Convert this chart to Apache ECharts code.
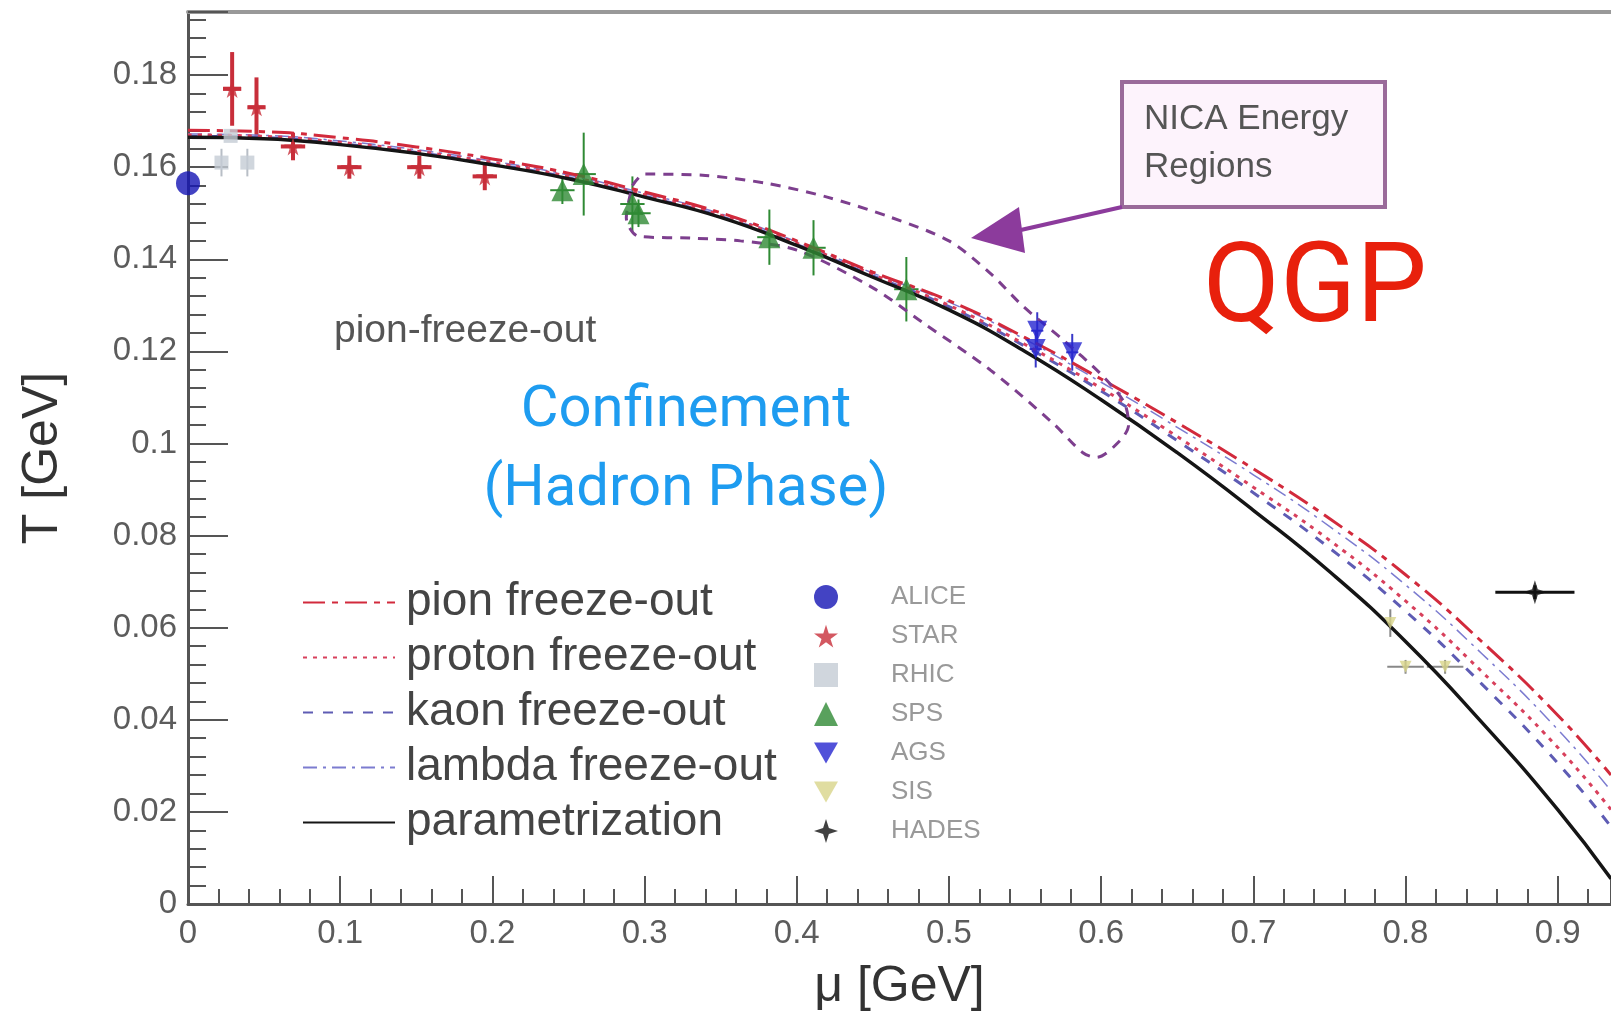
<!DOCTYPE html>
<html>
<head>
<meta charset="utf-8">
<script src="https://cdn.jsdelivr.net/npm/echarts@6/dist/echarts.min.js"></script>
<style>
html, body { margin: 0; padding: 0; background: #fff; }
#main { width: 1611px; height: 1020px; }
</style>
</head>
<body>
<div id="main"></div>
<script>
// freeze-out curves (mu in GeV, T in GeV)
var muGrid  = [0, 0.05, 0.1, 0.15, 0.2, 0.25, 0.3, 0.35, 0.4, 0.45, 0.5, 0.55, 0.6, 0.65, 0.7, 0.75, 0.8, 0.85, 0.9, 0.935];
var tParam  = [0.1665, 0.1662, 0.1649, 0.1630, 0.1605, 0.1575, 0.1535, 0.1491, 0.1430, 0.1361, 0.1290, 0.1200, 0.1095, 0.0980, 0.0855, 0.0722, 0.0570, 0.0395, 0.0205, 0.0055];
var tPion   = [0.1680, 0.1677, 0.1664, 0.1644, 0.1618, 0.1587, 0.1546, 0.1501, 0.1440, 0.1372, 0.1310, 0.1230, 0.1140, 0.1045, 0.0945, 0.0837, 0.0715, 0.0570, 0.0410, 0.0280];
var tProton = [0.1670, 0.1667, 0.1654, 0.1635, 0.1610, 0.1580, 0.1540, 0.1496, 0.1435, 0.1367, 0.1300, 0.1215, 0.1120, 0.1015, 0.0905, 0.0790, 0.0658, 0.0505, 0.0340, 0.0205];
var tKaon   = [0.1667, 0.1664, 0.1651, 0.1632, 0.1607, 0.1577, 0.1537, 0.1493, 0.1432, 0.1364, 0.1297, 0.1211, 0.1114, 0.1006, 0.0893, 0.0773, 0.0636, 0.0478, 0.0306, 0.0168];
var tLambda = [0.1672, 0.1669, 0.1657, 0.1638, 0.1613, 0.1583, 0.1543, 0.1499, 0.1438, 0.1370, 0.1307, 0.1226, 0.1133, 0.1035, 0.0932, 0.0820, 0.0693, 0.0544, 0.0379, 0.0246];

// NICA energy region outline (dashed loop)
var nicaMu = [0.292, 0.300, 0.340, 0.380, 0.420, 0.461, 0.500, 0.527, 0.549, 0.575, 0.600, 0.615, 0.618, 0.612, 0.597, 0.588, 0.568, 0.527, 0.483, 0.450, 0.400, 0.363, 0.330, 0.296, 0.288, 0.292];
var nicaT  = [0.1560, 0.1585, 0.1582, 0.1565, 0.1535, 0.1492, 0.1440, 0.1370, 0.1297, 0.1225, 0.1150, 0.1090, 0.1040, 0.1005, 0.0970, 0.0980, 0.1045, 0.1160, 0.1262, 0.1338, 0.1420, 0.1440, 0.1446, 0.1450, 0.1490, 0.1560];

// measurements: [mu, T, mu error, T error]
var alice = [[0.000, 0.1565, 0, 0]];
var star  = [[0.029, 0.1770, 0.006, 0.0080], [0.045, 0.1730, 0.006, 0.0065], [0.069, 0.1645, 0.008, 0.0030],
             [0.106, 0.1600, 0.008, 0.0025], [0.152, 0.1600, 0.008, 0.0025], [0.195, 0.1580, 0.008, 0.0030]];
var rhic  = [[0.022, 0.1610, 0, 0.0030], [0.039, 0.1610, 0, 0.0030], [0.028, 0.1668, 0.004, 0]];
var sps   = [[0.246, 0.1550, 0.008, 0.0030], [0.260, 0.1585, 0.008, 0.0090], [0.292, 0.1520, 0.008, 0.0060],
             [0.296, 0.1500, 0.008, 0.0030], [0.382, 0.1448, 0.008, 0.0060], [0.411, 0.1425, 0.008, 0.0060],
             [0.472, 0.1335, 0.008, 0.0070]];
var ags   = [[0.558, 0.1245, 0.004, 0.0040], [0.557, 0.1205, 0.004, 0.0040], [0.581, 0.1198, 0.004, 0.0040]];
var sis   = [[0.790, 0.0610, 0, 0.0030], [0.800, 0.0515, 0.012, 0.0015], [0.826, 0.0515, 0.012, 0.0015]];
var hades = [[0.885, 0.0677, 0.026, 0.0015]];

var lineNames = ['pion freeze-out', 'proton freeze-out', 'kaon freeze-out', 'lambda freeze-out', 'parametrization'];
var pointNames = ['ALICE', 'STAR', 'RHIC', 'SPS', 'AGS', 'SIS', 'HADES'];

function pairs(xs, ys) {
    return xs.map(function (x, i) { return [x, ys[i]]; });
}

function errorBars(color, width) {
    return function (params, api) {
        var x = api.value(0), y = api.value(1), dx = api.value(2), dy = api.value(3);
        var kids = [];
        var st = { stroke: color, lineWidth: width };
        if (dy > 0) {
            var a = api.coord([x, y - dy]), b = api.coord([x, y + dy]);
            kids.push({ type: 'line', shape: { x1: a[0], y1: a[1], x2: b[0], y2: b[1] }, style: st });
        }
        if (dx > 0) {
            var c = api.coord([x - dx, y]), d = api.coord([x + dx, y]);
            kids.push({ type: 'line', shape: { x1: c[0], y1: c[1], x2: d[0], y2: d[1] }, style: st });
        }
        return { type: 'group', children: kids };
    };
}

function errSeries(data, color, width) {
    return {
        type: 'custom', data: data, renderItem: errorBars(color, width),
        encode: { x: 0, y: 1 }, z: 3, silent: true, clip: true
    };
}

function curve(name, ys, color, width, dash, z) {
    return {
        name: name, type: 'line', data: pairs(muGrid, ys), smooth: true,
        symbol: 'none', z: z,
        lineStyle: { color: color, width: width, type: dash },
        itemStyle: { color: color }
    };
}

var starPath = 'path://M50,0 L61,35 L98,35 L68,57 L79,91 L50,70 L21,91 L32,57 L2,35 L39,35 Z';
var hadesPath = 'path://M50,0 L62,38 L100,50 L62,62 L50,100 L38,62 L0,50 L38,38 Z';
var downTri = 'path://M0,0 L100,0 L50,87 Z';

var myChart = echarts.init(document.getElementById('main'));

var option = {
    animation: false,
    backgroundColor: '#fff',
    grid: { left: 188, right: 0, top: 12, bottom: 116, outerBoundsMode: 'none' },
    xAxis: [{
        type: 'value', min: 0, max: 0.935, interval: 0.1,
        name: 'μ [GeV]', nameLocation: 'middle', nameGap: 58,
        nameTextStyle: { fontSize: 50, color: '#333', fontFamily: 'Liberation Sans' },
        axisLine: { lineStyle: { color: '#555', width: 3 } },
        axisTick: { inside: true, length: 28, lineStyle: { color: '#555', width: 2 } },
        minorTick: { show: true, splitNumber: 5, length: 15, lineStyle: { color: '#555', width: 2 } },
        axisLabel: { fontSize: 33, color: '#5c5c5c', margin: 13, showMaxLabel: false, fontFamily: 'Liberation Sans' },
        splitLine: { show: false }
    }, {
        type: 'value', position: 'top', min: 0, max: 0.935,
        axisLine: { show: true, lineStyle: { color: '#999', width: 4 } },
        axisTick: { show: false }, axisLabel: { show: false }, splitLine: { show: false }
    }],
    yAxis: {
        type: 'value', min: 0, max: 0.1937, interval: 0.02,
        name: 'T [GeV]', nameLocation: 'middle', nameGap: 120, nameRotate: 90,
        nameTextStyle: { fontSize: 50, color: '#333', fontFamily: 'Liberation Sans' },
        axisLine: { show: true, lineStyle: { color: '#555', width: 3 } },
        axisTick: { inside: true, length: 40, lineStyle: { color: '#555', width: 2 } },
        minorTick: { show: true, splitNumber: 5, length: 18, lineStyle: { color: '#555', width: 2 } },
        axisLabel: { fontSize: 33, color: '#5c5c5c', margin: 11, showMaxLabel: false, fontFamily: 'Liberation Sans' },
        splitLine: { show: false }
    },
    legend: [{
        data: lineNames, orient: 'vertical', left: 297, top: 574,
        itemWidth: 92, itemHeight: 14, itemGap: 8, selectedMode: false,
        itemStyle: { opacity: 0 },
        textStyle: { fontSize: 46, lineHeight: 47, color: '#444', padding: [0, 0, 0, 6], fontFamily: 'Liberation Sans' }
    }, {
        data: pointNames, orient: 'vertical', left: 809, top: 579,
        itemWidth: 24, itemHeight: 24, itemGap: 13, selectedMode: false,
        textStyle: { fontSize: 26, lineHeight: 26, color: '#999', padding: [0, 0, 0, 48], fontFamily: 'Liberation Sans' }
    }],
    series: [
        curve('kaon freeze-out', tKaon, '#5e5cb4', 3, [10, 10], 4),
        curve('lambda freeze-out', tLambda, '#7c7cd0', 1.5, [14, 6, 3, 6], 4),
        curve('proton freeze-out', tProton, '#d8405c', 3, [4, 6], 5),
        curve('pion freeze-out', tPion, '#d22a3c', 3, [22, 7, 6, 7], 5),
        curve('parametrization', tParam, '#151515', 3.5, 'solid', 5),
        {
            type: 'line', data: pairs(nicaMu, nicaT), smooth: 0.3, symbol: 'none', z: 5, silent: true,
            lineStyle: { color: '#7d3f8e', width: 3, type: [10, 8] }
        },
        errSeries(star, '#c82e3a', 4),
        errSeries(rhic, '#b8bec6', 2),
        errSeries(sps, '#2f8a34', 2),
        errSeries(ags, '#3838c8', 2),
        errSeries(sis, '#888', 2),
        errSeries(hades, '#111', 3),
        { name: 'ALICE', type: 'scatter', data: alice, symbol: 'circle', symbolSize: 24, z: 6, itemStyle: { color: '#1414b4' } },
        { name: 'STAR', type: 'scatter', data: star, symbol: starPath, symbolSize: 18, z: 6, itemStyle: { color: '#c82e3a' } },
        { name: 'RHIC', type: 'scatter', data: rhic, symbol: 'rect', symbolSize: 14, z: 6, itemStyle: { color: '#c4ccd4' } },
        { name: 'SPS', type: 'scatter', data: sps, symbol: 'triangle', symbolSize: 22, z: 6, itemStyle: { color: '#2f8a34' } },
        { name: 'AGS', type: 'scatter', data: ags, symbol: downTri, symbolSize: 20, z: 6, itemStyle: { color: '#2626d0' } },
        { name: 'SIS', type: 'scatter', data: sis, symbol: downTri, symbolSize: 12, z: 6, itemStyle: { color: '#d8d48a' } },
        { name: 'HADES', type: 'scatter', data: hades, symbol: hadesPath, symbolSize: 24, z: 6, itemStyle: { color: '#111' } }
    ],
    graphic: [
        { type: 'text', left: 334, top: 312, style: { text: 'pion-freeze-out', font: '39px "Liberation Sans"', fill: '#555' } },
        { type: 'text', x: 686, y: 411, style: { text: 'Confinement', font: '58px Roboto', fill: '#1e9cf0', align: 'center', verticalAlign: 'middle' } },
        { type: 'text', x: 686, y: 490, style: { text: '(Hadron Phase)', font: '58px Roboto', fill: '#1e9cf0', align: 'center', verticalAlign: 'middle' } },
        { type: 'text', x: 1315, y: 293, style: { text: 'QGP', font: '112px Roboto', fill: '#e8200c', align: 'center', verticalAlign: 'middle' } },
        { type: 'rect', shape: { x: 1122, y: 82, width: 263, height: 125 }, style: { fill: '#fdf3fc', stroke: '#9a6a9a', lineWidth: 4 } },
        { type: 'text', x: 1144, y: 95, style: { text: 'NICA Energy\nRegions', font: '35px "Liberation Sans"', lineHeight: 48, fill: '#555' } },
        { type: 'polyline', shape: { points: [[1122, 207], [1012, 232]] }, style: { stroke: '#8c3b9c', lineWidth: 4 } },
        { type: 'polygon', shape: { points: [[971, 238], [1019, 207], [1025, 253]] }, style: { fill: '#8c3b9c' } }
    ]
};
myChart.setOption(option);

window.onresize = function () {
    myChart.resize();
};
</script>
</body>
</html>
